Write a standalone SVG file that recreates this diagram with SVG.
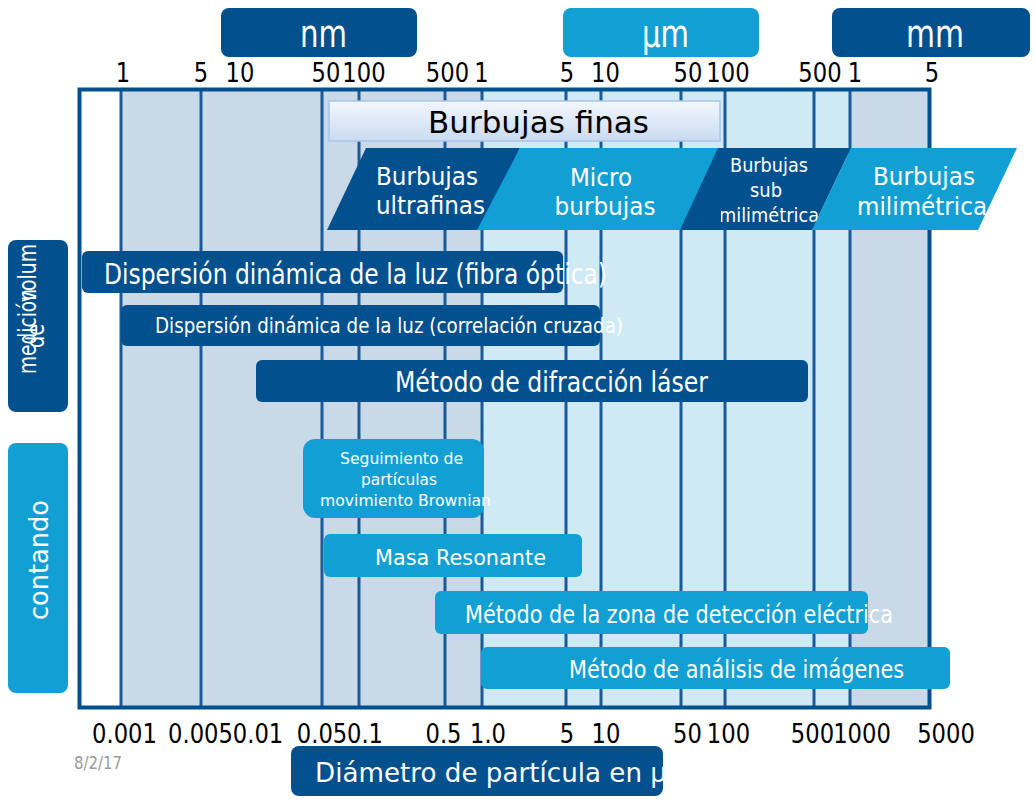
<svg xmlns="http://www.w3.org/2000/svg" width="1034" height="800" viewBox="0 0 1034 800">
<style>
text{font-family:'DejaVu Sans','Liberation Sans',sans-serif}
.w{fill:#ffffff}
.k{fill:#000000}
.dark{fill:#03508f}
.light{fill:#129fd4}
.vl{stroke:#1b5a98;stroke-width:3}
.ax{font-size:27px;fill:#000;text-anchor:middle}
</style>
<defs>
<linearGradient id="gf" x1="0" y1="0" x2="0" y2="1">
<stop offset="0" stop-color="#f3f7fd"/>
<stop offset="1" stop-color="#c9dbf1"/>
</linearGradient>
<clipPath id="cpSub"><rect x="721" y="148" width="140" height="82"/></clipPath>
<clipPath id="cpDiam"><rect x="291" y="746" width="372" height="50" rx="8"/></clipPath>
</defs>
<rect width="1034" height="800" fill="#ffffff"/>

<g id="scale-background">
<rect x="121" y="91" width="361" height="615" fill="#cad9e8"/>
<rect x="482" y="91" width="368" height="615" fill="#cfe9f5"/>
<rect x="850" y="91" width="78" height="615" fill="#cad9e8"/>
<line class="vl" x1="121" y1="91" x2="121" y2="706"/>
<line class="vl" x1="201" y1="91" x2="201" y2="706"/>
<line class="vl" x1="322" y1="91" x2="322" y2="706"/>
<line class="vl" x1="359" y1="91" x2="359" y2="706"/>
<line class="vl" x1="445" y1="91" x2="445" y2="706"/>
<line class="vl" x1="482" y1="91" x2="482" y2="706"/>
<line class="vl" x1="566" y1="91" x2="566" y2="706"/>
<line class="vl" x1="601" y1="91" x2="601" y2="706"/>
<line class="vl" x1="681" y1="91" x2="681" y2="706"/>
<line class="vl" x1="725" y1="91" x2="725" y2="706"/>
<line class="vl" x1="814" y1="91" x2="814" y2="706"/>
<line class="vl" x1="850" y1="91" x2="850" y2="706"/>
<rect x="79.5" y="89.5" width="850" height="618" fill="none" stroke="#03508f" stroke-width="4"/>
</g>

<g id="unit-nm">
<rect class="dark" x="221" y="8" width="196" height="49" rx="8"/>
<text class="w" x="300" y="47" font-size="37" textLength="47" lengthAdjust="spacingAndGlyphs">nm</text>
</g>
<g id="unit-um">
<rect class="light" x="563" y="8" width="196" height="49" rx="8"/>
<text class="w" x="642" y="47" font-size="37" textLength="47" lengthAdjust="spacingAndGlyphs">µm</text>
</g>
<g id="unit-mm">
<rect class="dark" x="832" y="8" width="198" height="49" rx="8"/>
<text class="w" x="906" y="47" font-size="37" textLength="58" lengthAdjust="spacingAndGlyphs">mm</text>
</g>

<g id="top-axis-labels">
<text class="ax" x="123" y="82" textLength="14.4" lengthAdjust="spacingAndGlyphs">1</text>
<text class="ax" x="201" y="82" textLength="14.4" lengthAdjust="spacingAndGlyphs">5</text>
<text class="ax" x="240" y="82" textLength="28.8" lengthAdjust="spacingAndGlyphs">10</text>
<text class="ax" x="326" y="82" textLength="28.8" lengthAdjust="spacingAndGlyphs">50</text>
<text class="ax" x="364" y="82" textLength="43.3" lengthAdjust="spacingAndGlyphs">100</text>
<text class="ax" x="447.5" y="82" textLength="43.3" lengthAdjust="spacingAndGlyphs">500</text>
<text class="ax" x="481.5" y="82" textLength="14.4" lengthAdjust="spacingAndGlyphs">1</text>
<text class="ax" x="567" y="82" textLength="14.4" lengthAdjust="spacingAndGlyphs">5</text>
<text class="ax" x="605.5" y="82" textLength="28.8" lengthAdjust="spacingAndGlyphs">10</text>
<text class="ax" x="688" y="82" textLength="28.8" lengthAdjust="spacingAndGlyphs">50</text>
<text class="ax" x="728" y="82" textLength="43.3" lengthAdjust="spacingAndGlyphs">100</text>
<text class="ax" x="820" y="82" textLength="43.3" lengthAdjust="spacingAndGlyphs">500</text>
<text class="ax" x="855" y="82" textLength="14.4" lengthAdjust="spacingAndGlyphs">1</text>
<text class="ax" x="932" y="82" textLength="14.4" lengthAdjust="spacingAndGlyphs">5</text>
</g>

<g id="bottom-axis-labels">
<text class="ax" x="124.5" y="743" textLength="64.9" lengthAdjust="spacingAndGlyphs">0.001</text>
<text class="ax" x="200.5" y="743" textLength="64.9" lengthAdjust="spacingAndGlyphs">0.005</text>
<text class="ax" x="258" y="743" textLength="50.5" lengthAdjust="spacingAndGlyphs">0.01</text>
<text class="ax" x="322" y="743" textLength="50.5" lengthAdjust="spacingAndGlyphs">0.05</text>
<text class="ax" x="365" y="743" textLength="36" lengthAdjust="spacingAndGlyphs">0.1</text>
<text class="ax" x="443.5" y="743" textLength="36" lengthAdjust="spacingAndGlyphs">0.5</text>
<text class="ax" x="488" y="743" textLength="36" lengthAdjust="spacingAndGlyphs">1.0</text>
<text class="ax" x="567" y="743" textLength="14.4" lengthAdjust="spacingAndGlyphs">5</text>
<text class="ax" x="606" y="743" textLength="28.8" lengthAdjust="spacingAndGlyphs">10</text>
<text class="ax" x="687.5" y="743" textLength="28.8" lengthAdjust="spacingAndGlyphs">50</text>
<text class="ax" x="728.5" y="743" textLength="43.3" lengthAdjust="spacingAndGlyphs">100</text>
<text class="ax" x="812.5" y="743" textLength="43.3" lengthAdjust="spacingAndGlyphs">500</text>
<text class="ax" x="862" y="743" textLength="57.7" lengthAdjust="spacingAndGlyphs">1000</text>
<text class="ax" x="946" y="743" textLength="57.7" lengthAdjust="spacingAndGlyphs">5000</text>
</g>

<g id="burbujas-finas">
<rect x="329" y="101" width="391" height="40" fill="url(#gf)" stroke="#a9c5e8" stroke-width="1.5"/>
<text class="k" x="538.5" y="133" font-size="31" text-anchor="middle">Burbujas finas</text>
</g>

<g id="burbujas-ultrafinas">
<polygon class="dark" points="366,148 520,148 481,230 327,230"/>
<text class="w" x="427" y="185" font-size="25" text-anchor="middle" textLength="102" lengthAdjust="spacingAndGlyphs">Burbujas</text>
<text class="w" x="430.5" y="214" font-size="25" text-anchor="middle" textLength="109" lengthAdjust="spacingAndGlyphs">ultrafinas</text>
</g>
<g id="micro-burbujas">
<polygon class="light" points="520,148 720,148 681,230 477,230"/>
<text class="w" x="601" y="186" font-size="25" text-anchor="middle" textLength="62" lengthAdjust="spacingAndGlyphs">Micro</text>
<text class="w" x="605" y="215" font-size="25" text-anchor="middle" textLength="101" lengthAdjust="spacingAndGlyphs">burbujas</text>
</g>
<g id="burbujas-sub-milimetricas">
<polygon class="dark" points="718,148 851,148 812,230 680,230"/>
<g clip-path="url(#cpSub)">
<text class="w" x="769" y="172" font-size="20" text-anchor="middle" textLength="78" lengthAdjust="spacingAndGlyphs">Burbujas</text>
<text class="w" x="766" y="197" font-size="20" text-anchor="middle" textLength="32" lengthAdjust="spacingAndGlyphs">sub</text>
<text class="w" x="769" y="222" font-size="20" text-anchor="middle" textLength="100" lengthAdjust="spacingAndGlyphs">milimétrica</text>
</g>
</g>
<g id="burbujas-milimetricas">
<polygon class="light" points="851,148 1017,148 978,230 812,230"/>
<text class="w" x="924" y="185" font-size="25" text-anchor="middle" textLength="102" lengthAdjust="spacingAndGlyphs">Burbujas</text>
<text class="w" x="922" y="215" font-size="25" text-anchor="middle" textLength="130" lengthAdjust="spacingAndGlyphs">milimétrica</text>
</g>

<g id="label-medicion">
<rect class="dark" x="8" y="240" width="60" height="172" rx="8"/>
<text class="w" transform="translate(36,374) rotate(-90)" font-size="24" textLength="85" lengthAdjust="spacingAndGlyphs">medición</text>
<text class="w" transform="translate(44,348) rotate(-90)" font-size="24" textLength="24" lengthAdjust="spacingAndGlyphs">de</text>
<text class="w" transform="translate(36,302) rotate(-90)" font-size="24" textLength="58" lengthAdjust="spacingAndGlyphs">volum</text>
</g>
<g id="label-contando">
<rect class="light" x="8" y="443" width="60" height="250" rx="8"/>
<text class="w" transform="translate(48,560) rotate(-90)" font-size="27" text-anchor="middle" textLength="120" lengthAdjust="spacingAndGlyphs">contando</text>
</g>

<g id="dls-fibra">
<rect class="dark" x="82" y="251" width="481" height="42" rx="6"/>
<text class="w" x="104" y="284" font-size="28" textLength="503" lengthAdjust="spacingAndGlyphs">Dispersión dinámica de la luz (fibra óptica)</text>
</g>
<g id="dls-correlacion">
<rect class="dark" x="121" y="305" width="479" height="41" rx="6"/>
<text class="w" x="155" y="333" font-size="21" textLength="468" lengthAdjust="spacingAndGlyphs">Dispersión dinámica de la luz (correlación cruzada)</text>
</g>
<g id="difraccion-laser">
<rect class="dark" x="256" y="360" width="552" height="42" rx="6"/>
<text class="w" x="395" y="392" font-size="28" textLength="313" lengthAdjust="spacingAndGlyphs">Método de difracción láser</text>
</g>
<g id="seguimiento-particulas">
<rect class="light" x="303" y="439" width="181" height="79" rx="12"/>
<text class="w" x="401.5" y="464" font-size="16" text-anchor="middle" textLength="123" lengthAdjust="spacingAndGlyphs">Seguimiento de</text>
<text class="w" x="399" y="485" font-size="16" text-anchor="middle" textLength="76" lengthAdjust="spacingAndGlyphs">partículas</text>
<text class="w" x="405.5" y="506" font-size="16" text-anchor="middle" textLength="171" lengthAdjust="spacingAndGlyphs">movimiento Brownian</text>
</g>
<g id="masa-resonante">
<rect class="light" x="324" y="534" width="258" height="43" rx="6"/>
<text class="w" x="375" y="565" font-size="22" textLength="171" lengthAdjust="spacingAndGlyphs">Masa Resonante</text>
</g>
<g id="zona-deteccion">
<rect class="light" x="435" y="591" width="433" height="43" rx="6"/>
<text class="w" x="465" y="623" font-size="24" textLength="428" lengthAdjust="spacingAndGlyphs">Método de la zona de detección eléctrica</text>
</g>
<g id="analisis-imagenes">
<rect class="light" x="481" y="647" width="469" height="42" rx="6"/>
<text class="w" x="569" y="678" font-size="24" textLength="335" lengthAdjust="spacingAndGlyphs">Método de análisis de imágenes</text>
</g>

<g id="axis-title">
<rect class="dark" x="291" y="746" width="372" height="50" rx="8"/>
<g clip-path="url(#cpDiam)">
<text class="w" x="315" y="782" font-size="27" textLength="352" lengthAdjust="spacingAndGlyphs">Diámetro de partícula en µ</text>
</g>
</g>

<text x="74" y="769" font-size="17" fill="#9a9a9a" textLength="48" lengthAdjust="spacingAndGlyphs">8/2/17</text>
</svg>
